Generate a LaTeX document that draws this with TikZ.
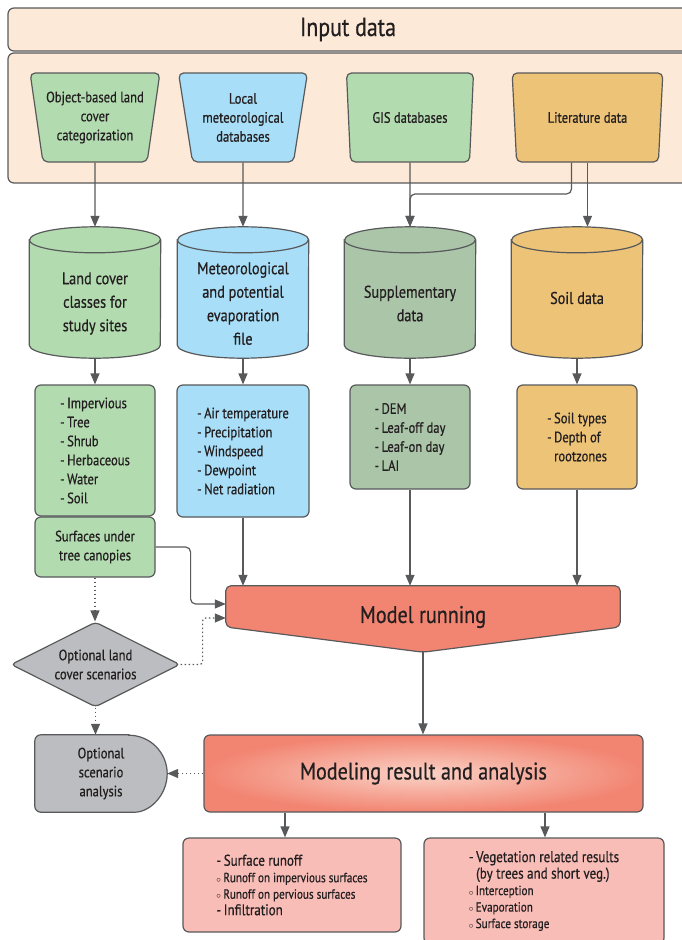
\documentclass[tikz,border=0pt]{standalone}
\usepackage{fontspec}
\setmainfont{PT Sans}[FakeStretch=0.84,FakeBold=0.6]
\usetikzlibrary{shapes.geometric,arrows.meta,calc,backgrounds}
\definecolor{edge}{HTML}{58595B}
\definecolor{ink}{HTML}{231F20}
\definecolor{peach}{HTML}{FDE9D7}
\definecolor{leaf}{HTML}{B3DBB0}
\definecolor{sky}{HTML}{A8DEF8}
\definecolor{sage}{HTML}{ABC5A9}
\definecolor{sand}{HTML}{EDC377}
\definecolor{coral}{HTML}{F28572}
\definecolor{blush}{HTML}{FAD2C6}
\definecolor{rose}{HTML}{F9BDB7}
\definecolor{stone}{HTML}{BCBDC0}
\tikzset{
  every node/.style={text=ink},
  src/.style={trapezium, shape border rotate=180, trapezium angle=77,
    trapezium stretches=true, draw=edge, line width=1.2pt, rounded corners=5,
    minimum height=89pt, inner sep=0pt, align=center,
    font=\fontsize{15}{19}\selectfont},
  store/.style={rectangle, minimum width=131pt, minimum height=131pt, inner sep=0pt},
  storetxt/.style={align=center, font=\fontsize{17}{23.5}\selectfont},
  item/.style={rectangle, draw=edge, line width=1.2pt, rounded corners=6,
    align=left, font=\fontsize{15}{19}\selectfont},
  arr/.style={draw=edge, line width=1.2pt, -{Triangle[length=11pt,width=9pt]}},
  opt/.style={arr, dash pattern=on 1.5pt off 2.5pt},
}
% drum outline round a store node: #1 node, #2 fill
\newcommand\drum[2]{%
  \draw [draw=edge, line width=1.2pt, fill=#2]
    ([yshift=-13pt]#1.north west) -- ([yshift=13pt]#1.south west)
    arc[start angle=180, end angle=360, x radius=65.5pt, y radius=13pt]
    -- ([yshift=-13pt]#1.north east)
    arc[start angle=0, end angle=180, x radius=65.5pt, y radius=13pt] -- cycle
    ([yshift=-13pt]#1.north west)
    arc[start angle=180, end angle=360, x radius=65.5pt, y radius=13pt];}
\begin{document}
\begin{tikzpicture}[x=1pt,y=1pt]
\useasboundingbox (0,0) rectangle (682,-940);
% input data frame
\node (inhead) [rectangle, draw=edge, fill=peach, line width=1.2pt, rounded corners=6,
  minimum width=680pt, minimum height=43pt, font=\fontsize{26}{30}\selectfont] at (348,-29.5) {Input data};
\node (inbox) [rectangle, draw=edge, fill=peach, line width=1.2pt, rounded corners=6,
  minimum width=680pt, minimum height=130pt] at (348,-118) {};
% sources
\node (lcc) [src, fill=leaf, minimum width=130pt] at (95,-117.5) {Object-based land\\cover\\categorization};
\node (met) [src, fill=sky, minimum width=129pt] at (243,-117.5) {Local\\meteorological\\databases};
\node (gis) [src, fill=leaf, minimum width=128pt] at (410,-117.5) {GIS databases};
\node (lit) [src, fill=sand, minimum width=151pt] at (587.5,-117.5) {Literature data};
% data stores
\node (lcs) [store] at (95,-292.5) {};
\node (mef) [store] at (243,-292.5) {};
\node (sup) [store] at (410,-292.5) {};
\node (soil) [store] at (577,-292.5) {};
\drum{lcs}{leaf}
\drum{mef}{sky}
\drum{sup}{sage}
\drum{soil}{sand}
\node (lcstxt) [storetxt] at (95,-303.5) {Land cover\\classes for\\study sites};
\node (meftxt) [storetxt] at (243,-303.5) {Meteorological\\and potential\\evaporation\\file};
\node (suptxt) [storetxt] at (410,-303.5) {Supplementary\\data};
\node (soiltxt) [storetxt] at (577,-298) {Soil data};
% item lists
\node (lcl) [item, fill=leaf, minimum width=120pt, minimum height=131pt] at (95,-450.5)
  {-\,Impervious\\-\,Tree\\-\,Shrub\\-\,Herbaceous\\-\,Water\\-\,Soil};
\node (surf) [item, fill=leaf, minimum width=120pt, minimum height=60pt, align=center] at (95,-547)
  {Surfaces under\\tree canopies};
\node (mel) [item, fill=sky, minimum width=132pt, minimum height=132pt] at (243,-451)
  {-\,Air temperature\\-\,Precipitation\\-\,Windspeed\\-\,Dewpoint\\-\,Net radiation};
\node (supl) [item, fill=sage, minimum width=120pt, minimum height=104pt] at (410,-437)
  {-\,DEM\\-\,Leaf-off day\\-\,Leaf-on day\\-\,LAI};
\node (soill) [item, fill=sand, minimum width=120pt, minimum height=104pt] at (577,-437)
  {-\,Soil types\\-\,Depth of\\\phantom{-\,}rootzones};
% model and results
\node (model) [minimum width=394pt, minimum height=62pt, font=\fontsize{24}{28}\selectfont] at (423,-617) {Model running};
\coordinate (modeltip) at ([yshift=-4pt]model.south);
\node (scen) [diamond, draw=edge, fill=stone, line width=1.2pt, rounded corners=4, aspect=2,
  minimum width=169pt, minimum height=85pt, inner sep=0pt, align=center,
  font=\fontsize{15}{19}\selectfont] at (95.5,-664.5) {Optional land\\cover scenarios};
\node (optana) [minimum width=132pt, minimum height=77pt, align=center,
  font=\fontsize{15}{19}\selectfont] at (101,-773.5) {Optional\\scenario\\analysis};
\node (result) [rectangle, draw=edge, line width=1.2pt, rounded corners=6, inner color=blush,
  outer color=coral, minimum width=439pt, minimum height=77pt,
  font=\fontsize{24}{28}\selectfont] at (423.5,-773.5) {Modeling result and analysis};
\node (runoff) [item, fill=rose, minimum width=218pt, minimum height=94pt,
  font=\fontsize{13.3}{16.5}\selectfont] at (292,-885)
  {{\fontsize{15.5}{19}\selectfont -\,Surface runoff}\\
   $\scriptstyle\circ$\,Runoff on impervious surfaces\\
   $\scriptstyle\circ$\,Runoff on pervious surfaces\\
   {\fontsize{15.5}{19}\selectfont -\,Infiltration}};
\node (veg) [item, fill=rose, minimum width=240pt, minimum height=106pt,
  font=\fontsize{13.3}{16.5}\selectfont] at (544,-891)
  {{\fontsize{15.5}{19}\selectfont -\,Vegetation related results}\\
   {\fontsize{15.5}{19}\selectfont\phantom{-\,}(by trees and short veg.)}\\
   $\scriptstyle\circ$\,Interception\\
   $\scriptstyle\circ$\,Evaporation\\
   $\scriptstyle\circ$\,Surface storage};
\begin{scope}[on background layer]
\draw [draw=edge, line width=1.2pt, fill=coral, rounded corners=5]
  (model.north west) -- (model.north east) -- ([yshift=-10pt]model.east)
  -- (modeltip) -- ([yshift=-10pt]model.west) -- cycle;
\draw [draw=edge, line width=1.2pt, fill=stone, rounded corners=6]
  ([xshift=-38.5pt]optana.north east) -- (optana.north west) -- (optana.south west)
  -- ([xshift=-38.5pt]optana.south east) [sharp corners] arc[start angle=-90, end angle=90, radius=38.5] -- cycle;
\end{scope}
% connectors
\draw [arr] (lcc) -- (lcs);
\draw [arr] (met) -- (mef);
\draw [arr] (gis) -- (sup);
\coordinate (elb) at (410,-194);
\draw [arr, rounded corners=5] ([xshift=-16pt]lit.south) |- (elb) -- (sup);
\draw [arr] (lit.south) -- (lit.south |- soil.north);
\draw [arr] (lcs) -- (lcl);
\draw [arr] (mef) -- (mel);
\draw [arr] (sup) -- (supl);
\draw [arr] (soil) -- (soill);
\draw [arr] (mel.south) -- (mel.south |- model.north);
\draw [arr] (supl.south) -- (supl.south |- model.north);
\draw [arr] (soill.south) -- (soill.south |- model.north);
\draw [arr, rounded corners=5] (surf.east) -- ++(35,0) |- ([yshift=13pt]model.west);
\draw [opt] (surf.south) -- (surf.south |- scen.north);
\draw [opt, rounded corners=3] (scen.east) -- ++(22,0) |- ([yshift=-1pt]model.west);
\draw [opt] (scen.south) -- (scen.south |- optana.north);
\draw [arr] (modeltip) -- (modeltip |- result.north);
\draw [opt] (result.west) -- (optana.east);
\draw [arr] ([xshift=-138.5pt]result.south) -- ([xshift=-7pt]runoff.north);
\draw [arr] ([xshift=121.5pt]result.south) -- ([xshift=1pt]veg.north);
\end{tikzpicture}
\end{document}
